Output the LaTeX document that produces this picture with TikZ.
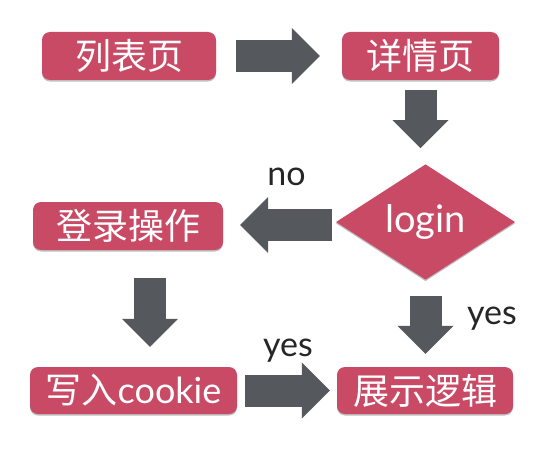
\documentclass[tikz,border=0pt]{standalone}
\usepackage{fontspec}
\setmainfont{Lato}
\newfontfamily\cjk{Noto Sans CJK SC}
\usetikzlibrary{shapes.geometric,arrows.meta,shadows}
\definecolor{boxred}{HTML}{C94A65}
\definecolor{arrgray}{HTML}{55595D}
\begin{document}
\begin{tikzpicture}[x=1pt,y=1pt,
  box/.style={fill=boxred, rounded corners=8pt, text=white, minimum height=48pt,
    inner sep=0pt, font=\fontsize{36}{40}\selectfont,
    drop shadow={shadow xshift=0pt, shadow yshift=-1.5pt, opacity=0.25, fill=black}},
  blockarrow/.style={draw=arrgray, line width=32pt,
    -{Triangle[length=28pt,width=56pt,line width=0pt]}},
  lbl/.style={font=\fontsize{34}{40}\selectfont, text=black!85, inner sep=0pt}]
\useasboundingbox[fill=white] (0,0) rectangle (554,459);
\node[box, minimum width=174pt] (lb) at (129,403) {\cjk 列表页};
\node[box, minimum width=157pt] (xq) at (420.5,403) {\cjk 详情页};
\node[diamond, fill=boxred, minimum width=179pt, minimum height=108pt, inner sep=0pt,
  text=white, font=\fontsize{38}{40}\selectfont,
  drop shadow={shadow xshift=0pt, shadow yshift=-1.5pt, opacity=0.25, fill=black}]
  (login) at (425.5,237) {\raisebox{-5pt}{login}};
\node[box, minimum width=190pt] (dl) at (128,233) {\cjk 登录操作};
\node[box, minimum width=207pt, minimum height=47pt] (xr) at (133.5,68.5) {{\cjk 写入}cookie};
\node[box, minimum width=176pt, minimum height=47pt] (zs) at (425,68.5) {\cjk 展示逻辑};
\draw[blockarrow, shorten <=20pt, shorten >=22pt] (lb.east) -- (xq.west);
\draw[blockarrow, shorten <=10pt, shorten >=16pt] (xq.south) -- (xq.south |- login.north);
\draw[blockarrow, shorten <=4pt, shorten >=17pt] ([yshift=-3pt]login.west) -- ([yshift=-3pt]login.west -| dl.east);
\draw[blockarrow, shorten <=28pt, shorten >=20pt] ([xshift=22pt]dl.south) -- ([xshift=22pt]dl.south |- xr.north);
\draw[blockarrow, shorten <=16pt, shorten >=13pt] (login.south) -- (login.south |- zs.north);
\draw[blockarrow, shorten <=8pt, shorten >=7pt] (xr.east) -- (zs.west);
\node[lbl] (no) at (286.5,282.5) {no};
\node[lbl] (yes1) at (492,140.5) {yes};
\node[lbl] (yes2) at (288,108.5) {yes};
\end{tikzpicture}
\end{document}
